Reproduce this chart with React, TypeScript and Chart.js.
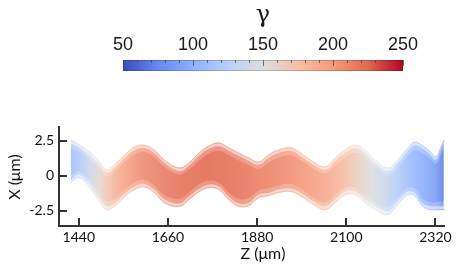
import React, { useEffect, useRef } from 'react';
import { Chart, registerables } from 'chart.js';
Chart.register(...registerables);

// ---- data ----
const zSamples = [1420, 1442, 1467, 1491, 1509, 1528, 1553, 1577, 1602, 1626, 1651, 1688, 1712, 1737, 1761, 1786, 1810, 1835, 1859, 1884, 1908, 1933, 1965, 1994, 2019, 2048, 2073, 2097, 2122, 2146, 2171, 2203, 2227, 2252, 2269, 2289, 2308, 2321, 2333, 2343, 2352];
const upperEdge = [2.57, 2.2, 1.7, 1.0, 0.43, 0.8, 1.5, 2.07, 2.2, 1.86, 1.14, 0.57, 0.93, 1.64, 2.14, 2.36, 2.0, 1.64, 1.29, 1.0, 1.5, 1.86, 2.0, 1.5, 1.0, 0.64, 1.29, 1.86, 2.2, 1.86, 1.14, 0.57, 1.14, 2.0, 2.43, 2.14, 1.71, 1.36, 2.0, 2.57, 2.43];
const lowerEdge = [-0.43, -0.14, -0.86, -1.86, -2.43, -2.2, -1.5, -1.0, -0.8, -1.2, -1.93, -2.2, -1.71, -1.14, -0.86, -1.0, -1.71, -2.2, -2.14, -1.57, -1.43, -1.2, -1.14, -1.57, -2.07, -2.43, -1.93, -1.36, -1.36, -1.93, -2.43, -2.79, -2.07, -1.36, -1.43, -2.2, -2.43, -2.43, -2.43, -2.43, -2.43];
const midUpper = [2.3, 1.95, 1.45, 0.75, 0.2, 0.55, 1.25, 1.8, 1.95, 1.6, 0.9, 0.3, 0.7, 1.4, 1.9, 2.1, 1.75, 1.4, 1.05, 0.75, 1.25, 1.6, 1.75, 1.25, 0.75, 0.4, 1.05, 1.6, 1.95, 1.6, 0.9, 0.3, 0.9, 1.75, 2.15, 1.9, 1.45, 1.1, 1.75, 2.3, 2.2];
const midLower = [-0.2, 0.1, -0.6, -1.6, -2.15, -1.95, -1.25, -0.75, -0.55, -0.95, -1.65, -1.95, -1.45, -0.9, -0.6, -0.75, -1.45, -1.95, -1.9, -1.3, -1.2, -0.95, -0.9, -1.3, -1.8, -2.15, -1.65, -1.1, -1.1, -1.65, -2.15, -2.5, -1.8, -1.1, -1.2, -1.95, -2.15, -2.15, -2.15, -2.15, -2.15];
const coreUpper = [2.0, 1.7, 1.2, 0.5, -0.05, 0.3, 1.0, 1.55, 1.7, 1.35, 0.65, 0.1, 0.45, 1.1, 1.6, 1.8, 1.5, 1.1, 0.8, 0.5, 0.95, 1.3, 1.45, 1.0, 0.5, 0.15, 0.75, 1.3, 1.65, 1.35, 0.65, 0.1, 0.6, 1.45, 1.85, 1.6, 1.2, 0.85, 1.45, 2.0, 1.9];
const coreLower = [0.1, 0.3, -0.35, -1.3, -1.85, -1.65, -1.0, -0.5, -0.3, -0.7, -1.4, -1.65, -1.2, -0.6, -0.35, -0.5, -1.2, -1.65, -1.6, -1.05, -0.9, -0.7, -0.6, -1.05, -1.55, -1.9, -1.4, -0.85, -0.85, -1.4, -1.9, -2.2, -1.55, -0.85, -0.9, -1.65, -1.9, -1.9, -1.85, -1.85, -1.85];
const gammaZ = [1420, 1445, 1470, 1490, 1510, 1535, 1560, 1600, 1650, 1700, 1760, 1820, 1880, 1940, 2000, 2050, 2100, 2130, 2160, 2190, 2220, 2260, 2290, 2320, 2340, 2352];
const gammaAlongZ = [112, 122, 140, 155, 170, 185, 195, 207, 215, 221, 224, 221, 214, 208, 199, 190, 175, 162, 150, 140, 125, 108, 98, 88, 72, 66];
const zTicks = [1440, 1660, 1880, 2100, 2320];
const xTicks = [-2.5, 0, 2.5];
const gammaTicks = [50, 100, 150, 200, 250];
const gammaMinorTicks = [60, 70, 80, 90, 110, 120, 130, 140, 160, 170, 180, 190, 210, 220, 230, 240];

// ---- style: coolwarm colormap anchors ----
const CW: number[][] = [
  [0, 59, 76, 192],
  [0.125, 103, 136, 238],
  [0.25, 141, 176, 254],
  [0.375, 184, 208, 249],
  [0.5, 221, 221, 221],
  [0.625, 246, 191, 166],
  [0.75, 244, 152, 122],
  [0.875, 226, 105, 82],
  [1, 180, 4, 38],
];
function cw(t: number, a: number) {
  t = Math.max(0, Math.min(1, t));
  for (let i = 0; i < CW.length - 1; i++) {
    const p = CW[i], q = CW[i + 1];
    if (t >= p[0] && t <= q[0]) {
      const f = (t - p[0]) / (q[0] - p[0]);
      const r = Math.round(p[1] + (q[1] - p[1]) * f);
      const g = Math.round(p[2] + (q[2] - p[2]) * f);
      const b = Math.round(p[3] + (q[3] - p[3]) * f);
      return `rgba(${r},${g},${b},${a})`;
    }
  }
  return `rgba(180,4,38,${a})`;
}

function gammaGradient(chart: any, alpha: number) {
  const xs = chart.scales && chart.scales.x;
  if (!chart.chartArea || !xs) return `rgba(220,120,100,${alpha})`;
  const x0 = xs.getPixelForValue(gammaZ[0]);
  const x1 = xs.getPixelForValue(gammaZ[gammaZ.length - 1]);
  const g = chart.ctx.createLinearGradient(x0, 0, x1, 0);
  gammaZ.forEach((z, i) => {
    g.addColorStop((xs.getPixelForValue(z) - x0) / (x1 - x0), cw((gammaAlongZ[i] - 50) / 200, alpha));
  });
  return g;
}

const pts = (ys: number[]) => zSamples.map((z, i) => ({ x: z, y: ys[i] }));

const colorbarPlugin = {
  id: 'colorbar',
  beforeDatasetsDraw(chart: any) {
    const { ctx, chartArea: a } = chart;
    const xs = chart.scales.x;
    const g = ctx.createLinearGradient(a.left, 0, a.right, 0);
    CW.forEach(([t, r, gg, b]) => g.addColorStop(t, `rgb(${r},${gg},${b})`));
    ctx.save();
    ctx.fillStyle = g;
    ctx.fillRect(a.left, a.top, a.right - a.left, a.bottom - a.top);
    ctx.strokeStyle = 'rgba(0,0,0,0.18)';
    ctx.lineWidth = 1;
    ctx.strokeRect(a.left + 0.5, a.top + 0.5, a.right - a.left - 1, a.bottom - a.top - 1);
    ctx.strokeStyle = 'rgba(70,70,70,0.75)';
    ctx.beginPath();
    gammaMinorTicks.forEach((v) => {
      const x = Math.round(xs.getPixelForValue(v)) + 0.5;
      ctx.moveTo(x, a.top);
      ctx.lineTo(x, a.top + 3);
    });
    gammaTicks.forEach((v) => {
      const x = Math.round(xs.getPixelForValue(v)) + 0.5;
      ctx.moveTo(x, a.top);
      ctx.lineTo(x, a.top + 6);
    });
    ctx.stroke();
    ctx.restore();
  },
};

const titlesPlugin = {
  id: 'titles',
  afterDraw(chart: any) {
    const ctx = chart.ctx;
    ctx.save();
    ctx.fillStyle = '#111';
    ctx.font = '16px Lato';
    ctx.textAlign = 'center';
    ctx.textBaseline = 'middle';
    ctx.fillText('Z (μm)', 263, 174);
    ctx.translate(15, 97);
    ctx.rotate(-Math.PI / 2);
    ctx.fillText('X (μm)', 0, 0);
    ctx.restore();
  },
};

function band(label: string, data: number[], fillAlpha: number | null, lineAlpha: number, order: number) {
  return {
    label,
    data: pts(data),
    fill: fillAlpha === null ? false : '+1',
    backgroundColor: fillAlpha === null ? 'rgba(0,0,0,0)' : (c: any) => gammaGradient(c.chart, fillAlpha),
    borderColor: lineAlpha > 0 ? (c: any) => gammaGradient(c.chart, lineAlpha) : 'rgba(0,0,0,0)',
    borderWidth: 1,
    order,
    clip: false,
  };
}

export default function App() {
  const barRef = useRef<HTMLCanvasElement>(null);
  const mainRef = useRef<HTMLCanvasElement>(null);

  useEffect(() => {
    const axisGrid = {
      display: true,
      drawOnChartArea: false,
      drawTicks: true,
      tickLength: -8,
      color: '#333',
      lineWidth: 2,
    };
    const axisBorder = { display: true, color: '#333', width: 2 };
    const tickFont = { family: 'Lato', size: 14 };

    const bar = new Chart(barRef.current as HTMLCanvasElement, {
      type: 'line',
      data: { datasets: [] },
      options: {
        animation: false,
        responsive: false,
        events: [],
        layout: { padding: { left: 123, right: 60, top: 0, bottom: 9 } },
        plugins: { legend: { display: false }, tooltip: { enabled: false } },
        scales: {
          x: {
            type: 'linear',
            position: 'top',
            min: 50,
            max: 250,
            afterBuildTicks: (s: any) => {
              s.ticks = gammaTicks.map((v) => ({ value: v }));
            },
            afterFit: (s: any) => {
              s.height = 60;
            },
            grid: { display: false, drawTicks: false },
            border: { display: false },
            ticks: {
              padding: 4,
              font: { family: 'Liberation Sans', size: 18 },
              color: '#1a1a1a',
              maxRotation: 0,
              autoSkip: false,
              callback: (v: any) => String(v),
            },
            title: {
              display: true,
              text: 'γ',
              font: { family: 'DejaVu Serif', size: 24 },
              color: '#1a1a1a',
              padding: { top: 1, bottom: 0 },
            },
          },
          y: { display: false },
        },
      } as any,
      plugins: [colorbarPlugin],
    });

    const main = new Chart(mainRef.current as HTMLCanvasElement, {
      type: 'line',
      data: {
        datasets: [
          band('upper', upperEdge, 0.35, 0.5, 3),
          band('lower', lowerEdge, null, 0.5, 3),
          band('midUpper', midUpper, 0.55, 0.3, 2),
          band('midLower', midLower, null, 0.3, 2),
          band('coreUpper', coreUpper, 0.65, 0, 1),
          band('coreLower', coreLower, null, 0, 1),
        ],
      } as any,
      options: {
        animation: false,
        responsive: false,
        events: [],
        layout: { padding: { left: 0, right: 17, top: 47, bottom: 0 } },
        elements: { point: { radius: 0 }, line: { tension: 0.4 } },
        plugins: { legend: { display: false }, tooltip: { enabled: false }, filler: { propagate: false } },
        scales: {
          x: {
            type: 'linear',
            min: 1391,
            max: 2340,
            afterBuildTicks: (s: any) => {
              s.ticks = zTicks.map((v) => ({ value: v }));
            },
            afterFit: (s: any) => {
              s.height = 46;
            },
            grid: axisGrid,
            border: axisBorder,
            ticks: {
              padding: 11,
              font: tickFont,
              color: '#111',
              maxRotation: 0,
              autoSkip: false,
              callback: (v: any) => String(v),
            },
          },
          y: {
            type: 'linear',
            min: -3.6,
            max: 3.5,
            afterBuildTicks: (s: any) => {
              s.ticks = xTicks.map((v) => ({ value: v }));
            },
            afterFit: (s: any) => {
              s.width = 59;
            },
            grid: axisGrid,
            border: axisBorder,
            ticks: {
              padding: 13,
              font: tickFont,
              color: '#111',
              autoSkip: false,
              callback: (v: any) => String(v),
            },
          },
        },
      } as any,
      plugins: [titlesPlugin],
    });

    return () => {
      bar.destroy();
      main.destroy();
    };
  }, []);

  return (
    <div style={{ position: 'fixed', left: 0, top: 0, width: 463, height: 272, background: '#fff' }}>
      <canvas
        ref={barRef}
        width={463}
        height={80}
        style={{ position: 'absolute', left: 0, top: 0, width: 463, height: 80 }}
      />
      <canvas
        ref={mainRef}
        width={463}
        height={192}
        style={{ position: 'absolute', left: 0, top: 80, width: 463, height: 192 }}
      />
    </div>
  );
}
